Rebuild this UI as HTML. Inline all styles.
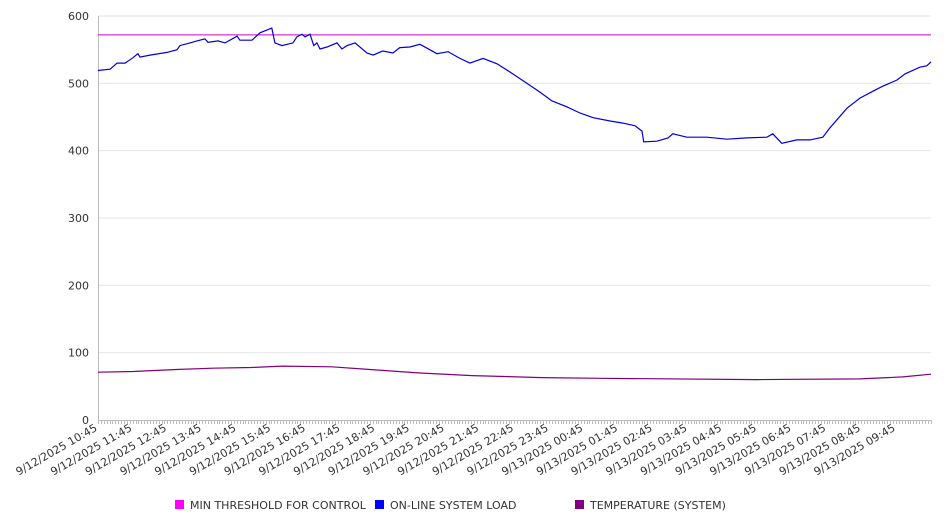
<!DOCTYPE html>
<html><head><meta charset="utf-8"><style>
html,body{margin:0;padding:0;background:#fff;}
svg{display:block;font-family:"DejaVu Sans","Liberation Sans",sans-serif;}
</style></head><body>
<svg id="chart" width="946" height="526" xmlns="http://www.w3.org/2000/svg">
<g id="grid"></g>
<g id="yaxis"></g>
<g id="xaxis"></g>
<g id="series"></g>
<g id="legend"></g>
</svg>
<script>
const xLabels = ["9/12/2025 10:45","9/12/2025 11:45","9/12/2025 12:45","9/12/2025 13:45","9/12/2025 14:45","9/12/2025 15:45","9/12/2025 16:45","9/12/2025 17:45","9/12/2025 18:45","9/12/2025 19:45","9/12/2025 20:45","9/12/2025 21:45","9/12/2025 22:45","9/12/2025 23:45","9/13/2025 00:45","9/13/2025 01:45","9/13/2025 02:45","9/13/2025 03:45","9/13/2025 04:45","9/13/2025 05:45","9/13/2025 06:45","9/13/2025 07:45","9/13/2025 08:45","9/13/2025 09:45"];
const yTicks = [0,100,200,300,400,500,600];
const thresholdValue = 572;
const loadHours = [0,0.35,0.55,0.78,1.01,1.15,1.21,1.5,1.99,2.28,2.36,2.65,2.85,3.08,3.17,3.46,3.66,4.01,4.09,4.44,4.67,5.01,5.1,5.3,5.62,5.73,5.88,5.97,6.11,6.22,6.31,6.4,6.6,6.89,7.03,7.18,7.41,7.75,7.93,8.21,8.5,8.7,8.99,9.28,9.77,10.09,10.43,10.72,11.1,11.5,11.87,12.36,12.74,13.08,13.52,13.89,14.27,14.76,15.13,15.48,15.68,15.73,16.11,16.43,16.57,16.97,17.55,18.13,18.7,19.28,19.45,19.71,20.14,20.52,20.89,21.1,21.59,21.96,22.25,22.59,23.03,23.26,23.69,23.89,24.01];
const loadValues = [519,521,530,530,538,544,539,542,546,550,556,560,563,566,561,563,560,570,564,564,575,582,560,556,560,569,573,569,573,556,560,551,554,560,551,556,560,545,542,548,545,553,554,558,544,547,537,530,537,529,517,500,487,474,465,456,449,444,441,437,429,413,414,419,425,420,420,417,419,420,425,411,416,416,420,434,463,478,486,495,505,514,524,526,532];
const tempHours = [0,1.01,2.25,3.31,4.41,5.33,6.74,7.84,9.22,10.78,12.8,14.5,18.99,21.96,23.2,24.01];
const tempValues = [71,72,75,77,78,80,79,75,70,66,63,62,60,61,64,68];

const NS="http://www.w3.org/2000/svg";
const X0=98, X1=931, Y0=420, Y1=16, HMAX=24.01, VMAX=600;
function xs(h){return X0+(h/HMAX)*(X1-X0);}
function ys(v){return Y0-(v/VMAX)*(Y0-Y1);}
function mk(tag,attrs,parent){const e=document.createElementNS(NS,tag);for(const k in attrs)e.setAttribute(k,attrs[k]);parent.appendChild(e);return e;}
const grid=document.getElementById('grid'),yaxis=document.getElementById('yaxis'),xaxis=document.getElementById('xaxis'),series=document.getElementById('series'),legend=document.getElementById('legend');

yTicks.forEach(v=>{
  if(v>0){const g=mk('line',{x1:X0,x2:X1,y1:ys(v),y2:ys(v),stroke:'#e6e6e6','stroke-width':1},grid);
  
  }
  const t=mk('text',{x:89,y:ys(v)+4,'text-anchor':'end','font-size':11,fill:'#333'},yaxis);
  t.textContent=v;
  
  
});
const yl=mk('line',{x1:X0+0.5,x2:X0+0.5,y1:Y1,y2:Y0,stroke:'#bbb','stroke-width':1},yaxis);


const xl=mk('line',{x1:X0,x2:X1,y1:Y0+0.5,y2:Y0+0.5,stroke:'#bbb','stroke-width':1},xaxis);


let tp='';
for(let m=0;m<=HMAX*60;m+=5){const x=Math.round(xs(m/60))+0.5;tp+='M'+x+' '+Y0+'v4';}
const ticks=mk('path',{d:tp,stroke:'#bbb','stroke-width':1},xaxis);


xLabels.forEach((lab,i)=>{
  const x=xs(i),y=430;
  const t=mk('text',{x:x,y:y,'text-anchor':'end','font-size':11,fill:'#333',transform:'rotate(-30 '+x+' '+y+')'},xaxis);
  t.textContent=lab;
  
  
});

const th=mk('line',{x1:X0,x2:X1,y1:ys(thresholdValue),y2:ys(thresholdValue),stroke:'#cc00cc','stroke-width':1},series);


function line(hs,vs,color,name){
  const d=hs.map((h,i)=>(i?'L':'M')+xs(h).toFixed(1)+' '+ys(vs[i]).toFixed(1)).join('');
  const p=mk('path',{d:d,fill:'none',stroke:color,'stroke-width':1.2},series);
  
  
}
line(tempHours,tempValues,'#800080','temperature-line');
line(loadHours,loadValues,'#0000dd','online-system-load-line');

const items=[['MIN THRESHOLD FOR CONTROL','#ff00ff',175,'legend-min-threshold'],['ON-LINE SYSTEM LOAD','#0000ff',375,'legend-online-load'],['TEMPERATURE (SYSTEM)','#800080',575,'legend-temperature']];
items.forEach(it=>{
  const g=mk('g',{},legend);
  
  
  mk('rect',{x:it[2],y:500,width:9,height:9,fill:it[1]},g);
  const t=mk('text',{x:it[2]+15,y:509,'font-size':11,fill:'#333'},g);
  t.textContent=it[0];
});
</script>
</body></html>
